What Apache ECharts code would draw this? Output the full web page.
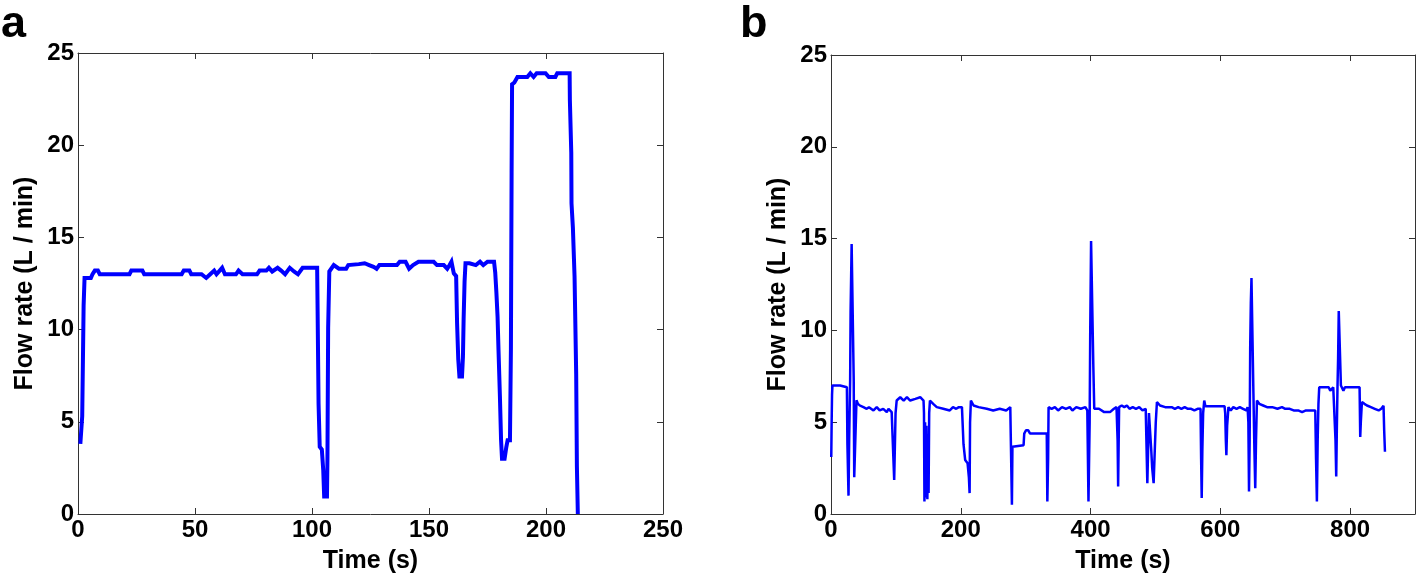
<!DOCTYPE html>
<html>
<head>
<meta charset="utf-8">
<script src="https://cdn.jsdelivr.net/npm/echarts@6/dist/echarts.min.js"></script>
<style>
  html, body { margin: 0; padding: 0; background: #fff; }
  #chart { width: 1418px; height: 579px; }
</style>
</head>
<body>
<div id="chart"></div>
<script>
// ---------- DATA ----------
const panelLabels = ['a', 'b'];
const xTitle = 'Time (s)';
const yTitle = 'Flow rate (L / min)';

const aTime = [1.0,1.6,1.8,2.1,2.4,2.8,5.5,6.2,7.2,8.5,9.3,22.0,22.8,27.5,28.3,44.3,45.2,47.6,48.4,52.8,54.8,56.5,58.2,59.2,61.6,62.8,67.5,68.6,70.3,76.5,77.6,80.5,81.6,83.0,85.3,86.8,88.5,90.5,92.3,94.0,96.0,102.2,102.4,102.8,103.3,104.2,104.8,105.2,106.4,106.6,106.9,107.4,109.3,111.5,114.6,115.5,120.0,122.5,124.4,126.3,127.6,128.8,136.3,137.5,140.0,141.5,143.2,145.5,152.0,153.4,156.3,157.8,158.8,159.6,160.6,161.6,162.0,162.5,163.0,164.1,164.5,164.8,165.2,165.6,167.3,170.0,171.8,173.2,175.0,177.8,178.3,178.8,179.3,179.7,180.3,180.8,181.2,182.3,183.0,183.6,184.6,185.0,185.3,185.5,186.5,187.8,192.0,193.3,194.7,196.0,199.8,201.2,204.0,204.8,210.1,210.2,210.8,210.9,211.5,212.2,212.9,213.2,213.6];
const aFlow = [3.8,3.8,5.3,8.3,11.3,12.8,12.8,13.0,13.2,13.2,13.0,13.0,13.2,13.2,13.0,13.0,13.2,13.2,13.0,13.0,12.8,13.0,13.2,13.0,13.35,13.0,13.0,13.2,13.0,13.0,13.2,13.2,13.35,13.15,13.35,13.2,13.0,13.35,13.15,13.0,13.35,13.35,11.0,6.0,3.65,3.5,2.4,0.95,0.95,3.0,10.1,13.15,13.5,13.3,13.3,13.5,13.55,13.6,13.5,13.4,13.3,13.5,13.5,13.68,13.68,13.3,13.5,13.68,13.68,13.5,13.5,13.3,13.5,13.68,13.05,12.9,10.35,8.4,7.45,7.45,8.5,10.6,12.6,13.6,13.6,13.5,13.68,13.5,13.68,13.68,13.1,12.0,10.7,8.9,6.4,4.0,3.0,3.0,3.6,4.0,4.0,8.9,18.5,23.3,23.4,23.7,23.7,23.9,23.7,23.9,23.9,23.7,23.7,23.9,23.9,22.45,19.6,16.85,15.5,12.9,7.6,2.6,0];

const bTime = [0.4,1.0,1.6,2.2,14.0,14.8,24.5,25.3,27.0,28.0,29.5,30.2,31.8,34.6,35.0,35.8,38.6,39.3,41.5,44.8,50.0,55.0,58.5,60.0,65.5,70.5,75.0,80.5,86.0,88.6,93.5,96.5,97.4,98.4,99.5,101.2,106.7,112.0,117.0,122.0,130.0,137.5,142.6,143.3,144.0,145.0,146.2,147.0,148.5,149.3,150.4,151.3,152.5,157.5,163.0,173.0,183.0,188.0,193.0,197.0,201.8,204.2,206.8,210.5,212.5,213.6,214.3,215.6,219.7,227.4,240.0,250.0,260.0,270.0,276.3,278.2,278.8,279.6,282.5,296.8,297.8,300.5,304.0,306.8,332.5,333.4,334.6,335.3,340.0,345.0,350.0,356.0,362.0,368.0,372.0,378.0,385.0,392.0,395.0,396.8,398.6,399.5,400.8,403.5,404.3,405.7,413.0,421.0,430.0,436.0,440.0,441.7,442.5,444.0,445.8,448.0,452.0,456.0,460.0,465.0,470.0,475.0,480.0,485.0,486.6,487.5,489.3,490.0,492.5,493.5,495.0,497.2,498.5,500.5,502.3,507.0,510.0,515.0,520.0,525.0,530.0,535.0,540.0,545.0,550.0,555.0,560.0,565.0,569.5,570.4,571.3,572.3,573.5,575.2,577.0,590.0,600.0,606.5,607.5,608.5,609.3,610.5,612.5,616.0,620.0,625.0,630.0,635.0,640.0,642.0,643.2,644.2,645.2,646.0,647.0,648.0,650.2,651.0,652.5,653.8,655.0,656.4,660.0,666.0,672.0,680.0,688.0,695.0,700.0,707.0,713.0,720.0,726.0,732.0,740.0,746.3,747.5,748.8,750.0,751.2,752.4,767.0,769.4,772.0,774.0,776.8,777.5,778.6,779.5,780.5,781.5,782.5,784.8,785.8,787.4,789.7,792.0,814.6,815.6,816.5,818.2,822.0,826.0,832.0,838.0,844.0,848.0,851.5,852.5,853.7];
const bFlow = [3.1,5.0,6.5,7.0,7.0,6.9,6.9,3.8,1.0,4.0,7.3,11.0,14.7,14.7,7.3,2.0,2.0,6.2,6.0,5.9,5.82,5.73,5.82,5.82,5.64,5.82,5.64,5.73,5.55,5.73,5.55,5.64,1.86,1.86,5.5,6.18,6.36,6.18,6.36,6.18,6.27,6.36,6.18,5.5,0.68,5.0,0.9,4.8,0.8,3.5,1.14,5.5,6.18,6.0,5.82,5.73,5.64,5.82,5.73,5.82,5.82,3.8,2.94,2.76,2.0,1.14,5.0,6.18,5.91,5.82,5.73,5.64,5.73,5.64,5.82,5.82,0.5,3.66,3.66,3.75,4.38,4.56,4.56,4.38,4.38,0.68,3.0,5.82,5.73,5.82,5.64,5.82,5.73,5.82,5.64,5.82,5.73,5.82,5.64,0.68,5.0,10.0,14.87,14.87,8.0,5.73,5.73,5.55,5.55,5.73,5.82,4.0,1.5,5.82,5.9,5.91,5.82,5.91,5.73,5.82,5.73,5.82,5.64,5.73,5.73,1.68,1.68,5.5,5.5,3.5,2.5,1.68,3.0,5.0,6.1,5.91,6.0,5.82,5.82,5.82,5.73,5.82,5.73,5.82,5.73,5.73,5.64,5.73,5.73,3.0,0.87,3.5,5.5,6.18,5.87,5.87,5.87,5.87,5.5,4.0,3.2,4.8,5.82,5.64,5.82,5.73,5.82,5.73,5.64,5.82,5.0,1.23,4.0,9.0,11.5,12.85,12.85,6.55,3.5,1.41,4.0,6.18,6.0,5.91,5.82,5.82,5.73,5.82,5.73,5.73,5.64,5.64,5.55,5.64,5.64,5.64,3.0,0.68,4.0,6.0,6.9,6.9,6.72,6.72,6.9,6.9,4.0,2.04,4.5,6.8,8.5,11.05,11.05,7.0,6.9,6.72,6.9,6.9,4.2,5.0,6.1,6.0,5.91,5.82,5.73,5.64,5.73,5.9,4.56,3.39];

const aXTicks = { min: 0, max: 250, interval: 50 };
const bXTicks = { min: 0, max: 900, interval: 200 };
const yTicks = { min: 0, max: 25, interval: 5 };

// ---------- CHART ----------
const FONT = '"Liberation Sans", Arial, sans-serif';
const axisColor = '#333';
const labelStyle = { color: '#000', fontSize: 24, fontWeight: 'bold', fontFamily: FONT };
const nameStyle = { color: '#000', fontSize: 25, fontWeight: 'bold', fontFamily: FONT };

function xAx(grid, t, main) {
  return {
    type: 'value', gridIndex: grid, min: t.min, max: t.max, interval: t.interval,
    position: main ? 'bottom' : 'top',
    axisLine: { show: true, onZero: false, lineStyle: { color: axisColor, width: 1 } },
    axisTick: { show: true, inside: true, length: 6, lineStyle: { color: axisColor } },
    splitLine: { show: false },
    axisLabel: main ? Object.assign({ margin: 4, showMaxLabel: t.max % t.interval === 0 }, labelStyle) : { show: false },
    name: main ? xTitle : '', nameLocation: 'middle', nameGap: 35, nameTextStyle: nameStyle
  };
}
function yAx(grid, main) {
  return {
    type: 'value', gridIndex: grid, min: yTicks.min, max: yTicks.max, interval: yTicks.interval,
    position: main ? 'left' : 'right',
    axisLine: { show: true, onZero: false, lineStyle: { color: axisColor, width: 1 } },
    axisTick: { show: true, inside: true, length: 6, lineStyle: { color: axisColor } },
    splitLine: { show: false },
    axisLabel: main ? Object.assign({ margin: 4 }, labelStyle) : { show: false },
    name: main ? yTitle : '', nameLocation: 'middle', nameGap: 40, nameTextStyle: nameStyle
  };
}

const chart = echarts.init(document.getElementById('chart'), null, { renderer: 'canvas' });
chart.setOption({
  animation: false,
  backgroundColor: '#fff',
  grid: [
    { left: 78, top: 53, width: 585, height: 461 },
    { left: 831, top: 55, width: 584, height: 463 }
  ],
  xAxis: [xAx(0, aXTicks, true), xAx(0, aXTicks, false), xAx(1, bXTicks, true), xAx(1, bXTicks, false)],
  yAxis: [yAx(0, true), yAx(0, false), yAx(1, true), yAx(1, false)],
  graphic: [
    { type: 'text', x: 1, y: 47, style: { text: panelLabels[0], fontSize: 45, fontWeight: 'bold', fontFamily: FONT, fill: '#000', verticalAlign: 'bottom' } },
    { type: 'text', x: 740, y: 47, style: { text: panelLabels[1], fontSize: 45, fontWeight: 'bold', fontFamily: FONT, fill: '#000', verticalAlign: 'bottom' } }
  ],
  series: [
    { type: 'line', xAxisIndex: 0, yAxisIndex: 0, showSymbol: false, symbol: 'none',
      lineStyle: { color: '#0000ff', width: 4, join: 'miter' }, itemStyle: { color: '#0000ff' },
      data: aTime.map((t, i) => [t, aFlow[i]]) },
    { type: 'line', xAxisIndex: 2, yAxisIndex: 2, showSymbol: false, symbol: 'none',
      lineStyle: { color: '#0000ff', width: 2.5 }, itemStyle: { color: '#0000ff' },
      data: bTime.map((t, i) => [t, bFlow[i]]) }
  ]
});
</script>
</body>
</html>
